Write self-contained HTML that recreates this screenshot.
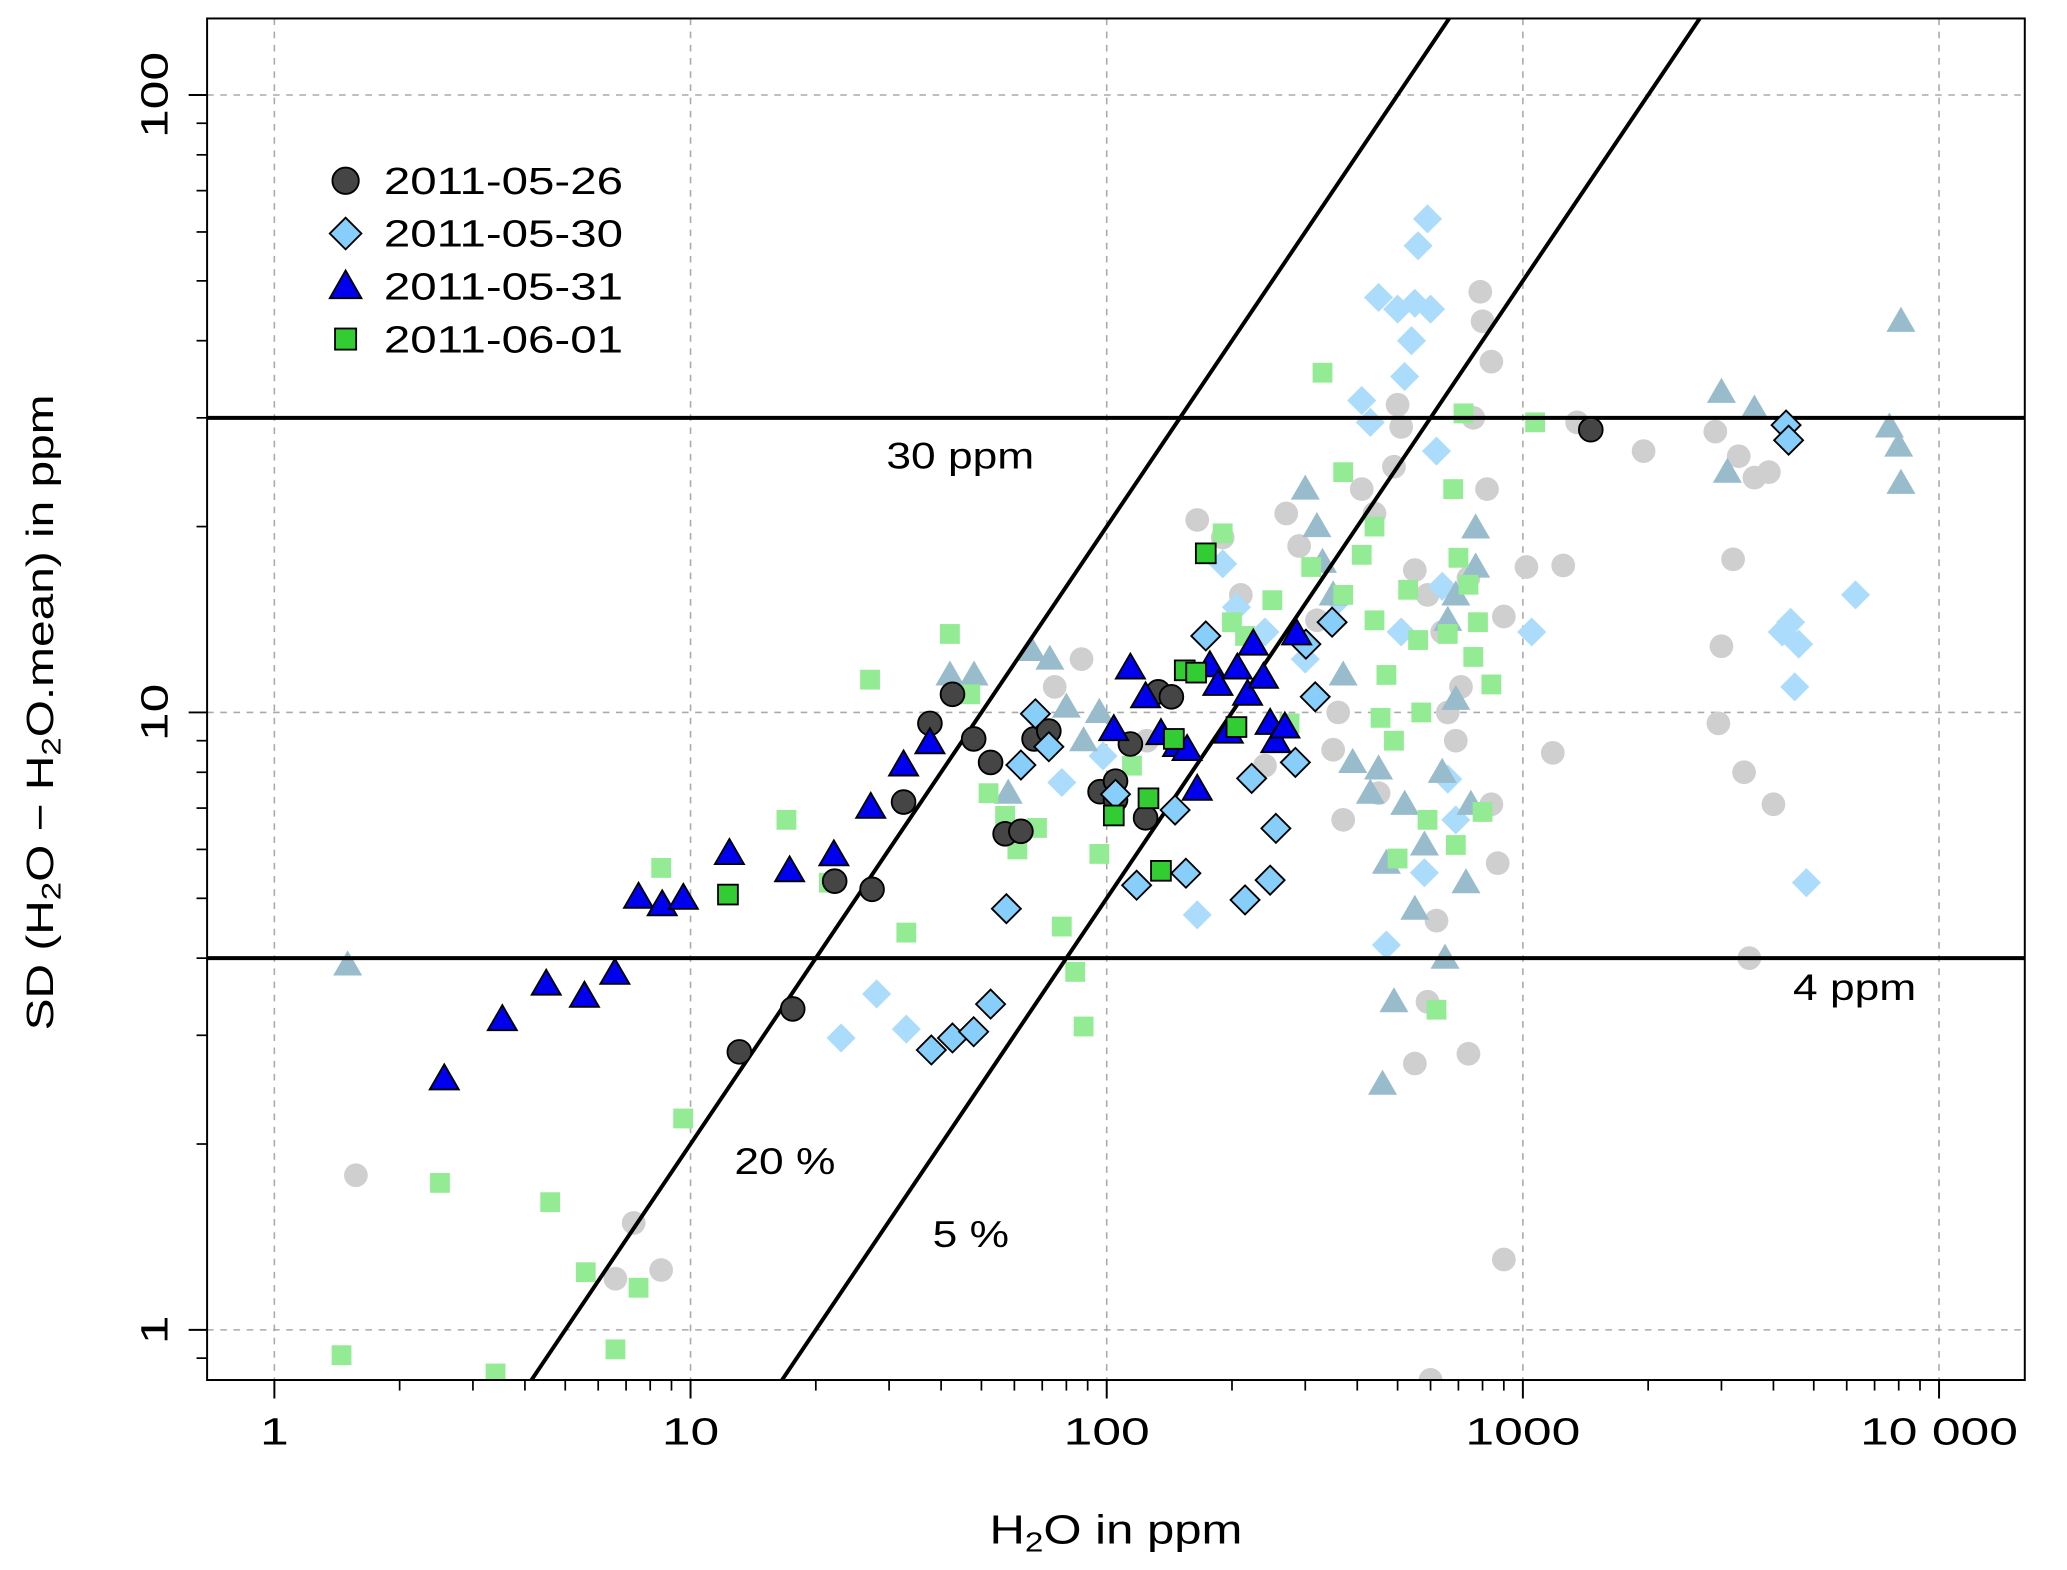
<!DOCTYPE html>
<html><head><meta charset="utf-8"><style>
html,body{margin:0;padding:0;background:#fff;overflow:hidden;width:2067px;height:1570px;}
svg{display:block;font-family:"Liberation Sans",Arial,sans-serif;}
</style></head><body>
<svg id="chart" width="2067" height="1570" viewBox="0 0 1567 1190" preserveAspectRatio="none" xmlns="http://www.w3.org/2000/svg">
<defs><clipPath id="clip"><rect x="157" y="14" width="1378" height="1032"/></clipPath></defs>
<rect width="1567" height="1190" fill="#fff"/>
<g id="grid"></g>
<g id="bg" clip-path="url(#clip)"></g>
<g id="reflines" clip-path="url(#clip)"></g>
<g id="fg" clip-path="url(#clip)"></g>
<rect x="157" y="14" width="1378" height="1032" fill="none" stroke="#000" stroke-width="1.5"/>
<g id="axes"></g>
<text class="wide12" x="728" y="355" font-size="28" text-anchor="middle">30 ppm</text>
<text class="wide12" x="1406" y="758" font-size="28" text-anchor="middle">4 ppm</text>
<text class="wide12" x="595" y="890" font-size="28" text-anchor="middle">20 %</text>
<text class="wide12" x="736" y="945" font-size="28" text-anchor="middle">5 %</text>
<text class="wide12" x="846" y="1170" font-size="31" text-anchor="middle">H<tspan font-size="21" dy="6">2</tspan><tspan dy="-6">O in ppm</tspan></text>
<text class="wide125" transform="translate(40,540) rotate(-90)" font-size="29" text-anchor="middle">SD (H<tspan font-size="20" dy="6">2</tspan><tspan dy="-6">O − H</tspan><tspan font-size="20" dy="6">2</tspan><tspan dy="-6">O.mean) in ppm</tspan></text>
<g id="legend"></g>
</svg>
<script>
// ---- data ----
const c26X=[13.1,17.6,22.2,27.3,32.5,37.6,42.6,47.9,52.6,57.0,62.2,66.9,72.6,96.4,105,105,114,124,133,143,1456];
const c26Y=[2.82,3.31,5.33,5.17,7.16,9.6,10.7,9.06,8.3,6.36,6.42,9.06,9.33,7.44,7.74,7.22,8.89,6.75,10.8,10.6,28.7];
const d30X=[37.9,42.6,47.9,52.6,57.4,62.2,67.4,72.6,105,118,146,155,173,215,223,247,255,284,301,317,348,4290,4350];
const d30Y=[2.84,2.97,3.04,3.37,4.81,8.22,9.95,8.8,7.37,5.25,6.95,5.49,13.3,4.97,7.82,5.35,6.49,8.3,12.9,10.6,14.0,29.2,27.6];
const t31X=[2.56,3.53,4.5,5.56,6.58,7.5,8.55,9.61,12.4,17.3,22.1,27.1,32.5,37.6,104,114,124,135,148,156,165,177,185,196,206,218,225,238,247,255,268,286];
const t31Y=[2.55,3.18,3.63,3.47,3.78,5.02,4.88,5.0,5.91,5.54,5.88,7.02,8.22,8.93,9.38,11.8,10.6,9.24,8.84,8.71,7.51,11.9,11.1,9.29,11.8,10.7,12.9,11.4,9.6,8.97,9.47,13.4];
const s01X=[12.3,104,126,135,145,154,164,173,205];
const s01Y=[5.07,6.81,7.26,5.54,9.06,11.7,11.6,18.1,9.47];
const bgCX=[1.57,7.3,6.6,8.5,165,190,270,290,320,360,410,440,490,500,510,550,590,640,660,690,710,740,760,790,800,820,840,840,870,900,740,550,600,620,590,450,370,350,900,1020,1250,1180,1950,2900,2950,3000,3200,3300,3400,3600,3900,4000,3500,1350,240,125,87,75,210];
const bgCY=[1.78,1.49,1.21,1.25,20.5,19.2,21,18.6,14.1,10,23,21,25,31.5,29,17,15.5,13.5,10,9,11,16.5,30,48,43,23,37,7.1,5.7,1.3,2.8,2.7,0.83,4.6,3.4,7.4,6.7,8.7,14.3,17.2,17.3,8.6,26.5,28.5,9.6,12.8,17.7,26,8,24,24.5,7.1,4,29.5,8.2,9,12.2,11,15.5];
const bgDX=[23,28,33,78,98,165,190,205,360,410,430,450,500,540,520,560,590,600,550,620,580,470,510,640,660,690,1050,4200,4400,4600,4500,4800,6300,300,240];
const bgDY=[2.97,3.5,3.07,7.7,8.5,4.7,17.4,14.8,15.2,32,29.5,47,45,40,35,57,63,45,46,26.5,5.5,4.2,13.5,16,7.8,6.7,13.5,13.5,14,12.9,11,5.3,15.5,12.2,13.5];
const bgTX=[1.5,42,48,58,66,73,80,88,96,300,320,330,350,370,390,430,450,470,490,460,520,550,580,640,650,660,690,730,750,770,770,3000,3100,3600,7600,8000,8100,8100,690];
const bgTY=[3.9,11.5,11.5,7.4,12.6,12.2,10.2,9,10,23,20,17.5,15.5,11.5,8.3,7.4,8.1,5.7,3.4,2.5,7.1,4.8,6.1,8,4,14.1,10.5,5.3,7.1,19.9,17.2,33,24.5,31,29,27,23.5,43,15.5];
const bgSX=[1.45,2.5,3.4,4.6,5.6,6.6,7.5,8.5,9.6,17,21.5,27,33,42,47,52,57,61,68,78,84,88,96,115,190,200,215,250,275,310,330,370,370,410,440,455,470,490,500,530,560,570,590,620,660,680,700,720,740,760,780,800,840,1070,690,440];
const bgSY=[0.91,1.73,0.85,1.61,1.24,0.93,1.17,5.6,2.2,6.7,5.3,11.3,4.4,13.4,10.7,7.4,6.8,6,6.5,4.5,3.8,3.1,5.9,8.2,19.5,14,13.3,15.2,9.6,17.2,35.5,24.5,15.5,18,20,9.8,11.5,9,5.8,15.8,13.1,10,6.7,3.3,13.4,23,17.8,30.5,16.1,12.3,14,6.9,11.1,29.5,6.1,14.1];
const hLines=[30,4];
const pctLines=[0.2,0.05];
const xTicks=[1,10,100,1000,10000];
const xTickLabels=["1","10","100","1000","10 000"];
const yTicks=[1,10,100];
const yTickLabels=["1","10","100"];
const legendLabels=["2011-05-26","2011-05-30","2011-05-31","2011-06-01"];

// ---- scales ----
const X0=208, XD=315.5, Y0=1008, YD=468, L=157,R=1535,T=14,B=1046;
const sx=v=>X0+XD*Math.log10(v);
const sy=v=>Y0-YD*Math.log10(v);
const NS="http://www.w3.org/2000/svg";
function mk(tag,attrs,parent){const e=document.createElementNS(NS,tag);for(const k in attrs)e.setAttribute(k,attrs[k]);parent.appendChild(e);return e;}

const grid=document.getElementById('grid');
xTicks.forEach(v=>{const l=mk('line',{x1:sx(v),x2:sx(v),y1:T,y2:B,stroke:'#aaa','stroke-width':1.2,'stroke-dasharray':'5,5'},grid);

});
yTicks.forEach(v=>{const l=mk('line',{x1:L,x2:R,y1:sy(v),y2:sy(v),stroke:'#aaa','stroke-width':1.2,'stroke-dasharray':'5,5'},grid);

});

function marker(type,x,y,fill,stroke,parent,name){
  const px=sx(x),py=sy(y);let e;
  const sw=stroke?1.4:0, st=stroke||'none';
  if(type==='c') e=mk('circle',{cx:px,cy:py,r:9,fill:fill,stroke:st,'stroke-width':sw},parent);
  else if(type==='d') e=mk('polygon',{points:`${px},${py-11} ${px+11},${py} ${px},${py+11} ${px-11},${py}`,fill:fill,stroke:st,'stroke-width':sw},parent);
  else if(type==='t') e=mk('polygon',{points:`${px},${py-11} ${px+11},${py+8} ${px-11},${py+8}`,fill:fill,stroke:st,'stroke-width':sw},parent);
  else e=mk('rect',{x:px-7.5,y:py-7.5,width:15,height:15,fill:fill,stroke:st,'stroke-width':sw},parent);
  
  
  return e;
}
const bg=document.getElementById('bg');
bgCX.forEach((v,i)=>marker('c',v,bgCY[i],'#cfcfcf',null,bg,'bg-point-0526'));
bgDX.forEach((v,i)=>marker('d',v,bgDY[i],'#abdcfb',null,bg,'bg-point-0530'));
bgTX.forEach((v,i)=>marker('t',v,bgTY[i],'#98bccb',null,bg,'bg-point-0531'));
bgSX.forEach((v,i)=>marker('s',v,bgSY[i],'#93eb93',null,bg,'bg-point-0601'));

const rl=document.getElementById('reflines');
hLines.forEach(v=>{const l=mk('line',{x1:L,x2:R,y1:sy(v),y2:sy(v),stroke:'#000','stroke-width':3},rl);

});
pctLines.forEach(p=>{const a=0.5,b=20000;const l=mk('line',{x1:sx(a),y1:sy(a*p),x2:sx(b),y2:sy(b*p),stroke:'#000','stroke-width':3},rl);

});

const fg=document.getElementById('fg');
c26X.forEach((v,i)=>marker('c',v,c26Y[i],'#454545','#000',fg,'point-0526'));
d30X.forEach((v,i)=>marker('d',v,d30Y[i],'#87cefa','#000',fg,'point-0530'));
t31X.forEach((v,i)=>marker('t',v,t31Y[i],'#0000ee','#000',fg,'point-0531'));
s01X.forEach((v,i)=>marker('s',v,s01Y[i],'#32cd32','#000',fg,'point-0601'));

const ax=document.getElementById('axes');
xTicks.forEach((v,i)=>{
  const t=mk('line',{x1:sx(v),x2:sx(v),y1:B,y2:B+14,stroke:'#000','stroke-width':1.5},ax);
  
  
  const tx=mk('text',{x:sx(v),y:B+49,'font-size':29,'text-anchor':'middle','class':'wide135'},ax);tx.textContent=xTickLabels[i];
  
  
  for(let k=2;k<=9;k++){const m=v*k;if(sx(m)>R)break;
    const mt=mk('line',{x1:sx(m),x2:sx(m),y1:B,y2:B+8,stroke:'#000','stroke-width':1.3},ax);
    
    }
});
[0.1].concat(yTicks).forEach(v=>{for(let k=2;k<=9;k++){const m=v*k;if(sy(m)<T||sy(m)>B)continue;
    const mt=mk('line',{x1:L-8,x2:L,y1:sy(m),y2:sy(m),stroke:'#000','stroke-width':1.3},ax);
    
    }});
yTicks.forEach((v,i)=>{
  const t=mk('line',{x1:L-14,x2:L,y1:sy(v),y2:sy(v),stroke:'#000','stroke-width':1.5},ax);
  
  
  const tx=mk('text',{transform:`translate(${L-30},${sy(v)}) rotate(-90)`,'font-size':29,'text-anchor':'middle','class':'wide135'},ax);tx.textContent=yTickLabels[i];
  
  
});

const lg=document.getElementById('legend');
const ltypes=['c','d','t','s'],lfill=['#454545','#87cefa','#0000ee','#32cd32'];
legendLabels.forEach((s,i)=>{
  const py=137+40*i,px=262;let e;
  if(ltypes[i]==='c')e=mk('circle',{cx:px,cy:py,r:10,fill:lfill[i],stroke:'#000','stroke-width':1.4},lg);
  else if(ltypes[i]==='d')e=mk('polygon',{points:`${px},${py-12} ${px+12},${py} ${px},${py+12} ${px-12},${py}`,fill:lfill[i],stroke:'#000','stroke-width':1.4},lg);
  else if(ltypes[i]==='t')e=mk('polygon',{points:`${px},${py-12} ${px+12},${py+9} ${px-12},${py+9}`,fill:lfill[i],stroke:'#000','stroke-width':1.4},lg);
  else e=mk('rect',{x:px-8,y:py-8,width:16,height:16,fill:lfill[i],stroke:'#000','stroke-width':1.4},lg);
  
  
  const tx=mk('text',{x:291,y:py+10,'font-size':29,'class':'wide124'},lg);tx.textContent=s;
  
  
});

// widen text to match reference glyph widths
[['wide12',1.2],['wide125',1.25],['wide135',1.35],['wide124',1.24]].forEach(([c,f])=>{
  document.querySelectorAll('text.'+c).forEach(t=>{
    const w=t.getComputedTextLength();
    t.setAttribute('textLength',(w*f).toFixed(1));
    t.setAttribute('lengthAdjust','spacingAndGlyphs');
  });
});
</script>
</body></html>
